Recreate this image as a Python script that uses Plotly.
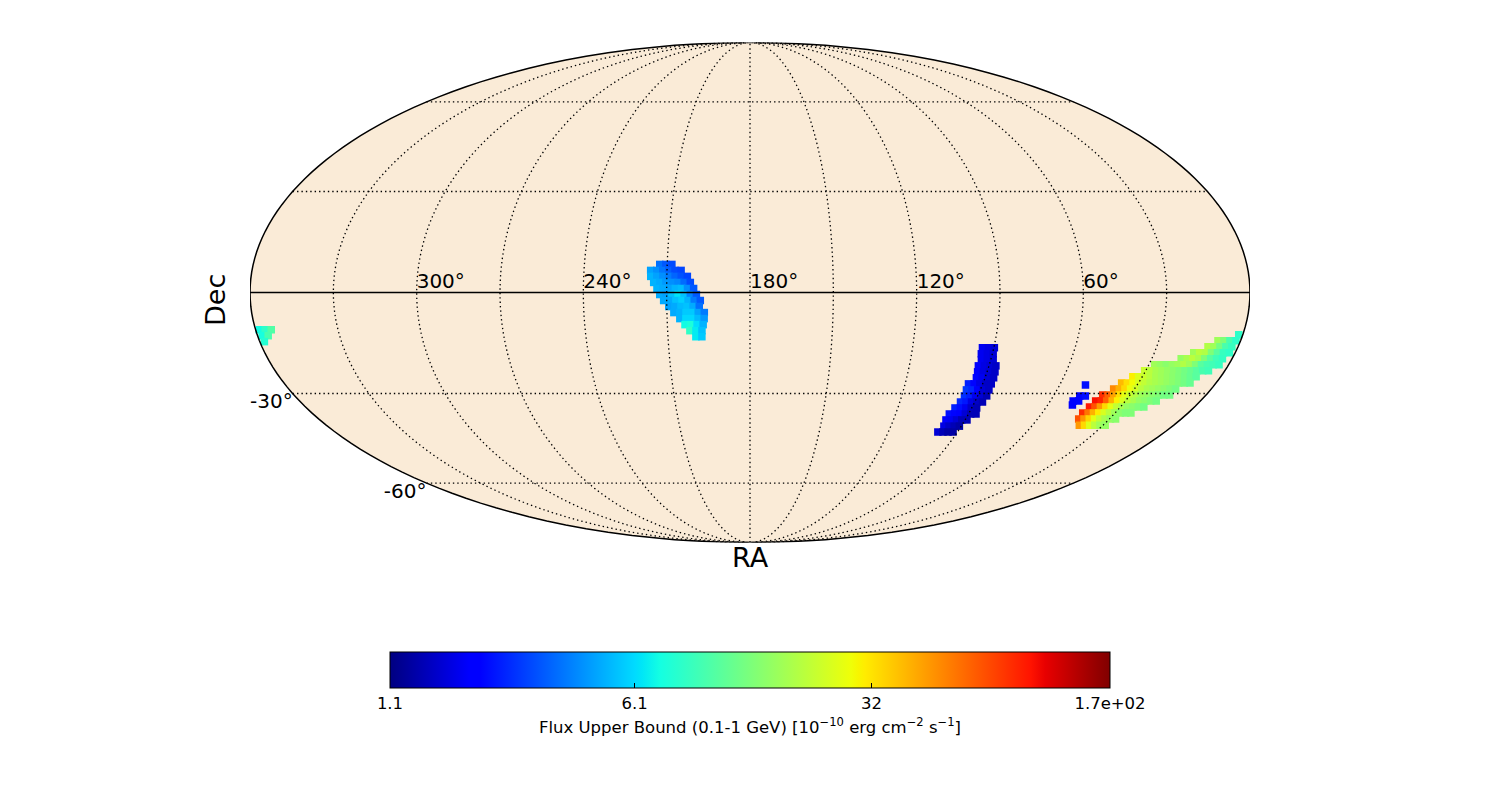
import numpy as np
import plotly.graph_objects as go

# ---- Data: rings of (Dec, first RA, flux per pixel) ----
RA_STEP = 2.2

A_DEC = [8.2, 6.45, 4.7, 2.93, 1.17, -0.59, -2.34, -4.1, -5.86, -7.63, -9.4, -11.17, -12.95]
A_RA0 = [212.7, 215.9, 215.8, 214.7, 213.5, 212.5, 211.1, 209.3, 207.5, 205.4, 203.6, 201.9, 199.8]
A_FLUX = [
    [3.6, 3.2, 3.0],
    [4.6, 4.2, 3.7, 3.3, 3.0, 2.9],
    [5.0, 4.6, 4.2, 3.8, 3.4, 3.1, 2.9],
    [5.0, 4.8, 4.4, 4.2, 4.0, 3.5, 3.0],
    [5.0, 4.8, 4.6, 5.0, 5.2, 4.2, 3.2],
    [4.8, 4.6, 5.4, 6.4, 5.4, 4.0, 3.2],
    [4.8, 4.8, 5.4, 5.8, 5.0, 3.8, 3.2],
    [4.6, 4.8, 5.2, 5.4, 4.8, 3.6],
    [4.8, 5.0, 5.6, 5.6, 4.6, 3.8],
    [5.0, 6.0, 6.0, 5.2, 4.4],
    [7.2, 7.6, 6.2, 5.0],
    [8.6, 6.6, 5.4],
    [6.6, 5.6],
]

B_DEC = [-16.2, -18.0, -19.8, -21.6, -23.4, -25.2, -27.05, -28.9, -30.75, -32.64, -34.5, -36.4, -38.3, -40.3, -42.2]
B_RA0 = [94.2, 94.1, 93.5, 94.0, 93.6, 93.3, 95.5, 95.4, 95.2, 95.7, 96.8, 97.9, 98.0, 97.4, 98.5]
B_FLUX = [
    [1.8, 1.7, 1.6],
    [1.8, 1.7, 1.6],
    [1.8, 1.7, 1.6],
    [1.9, 1.7, 1.6, 1.5],
    [1.9, 1.7, 1.6, 1.5],
    [2.1, 1.8, 1.6, 1.5],
    [2.4, 2.1, 1.7, 1.5, 1.5],
    [2.7, 2.5, 1.9, 1.6, 1.5],
    [2.6, 2.4, 1.8, 1.6, 1.4],
    [2.5, 2.3, 1.7, 1.5, 1.4],
    [2.4, 2.2, 1.8, 1.5, 1.4],
    [2.2, 2.1, 1.9, 1.6, 1.4, 1.4],
    [1.9, 1.8, 1.6, 1.4, 1.4],
    [1.7, 1.5, 1.4, 1.3],
    [1.6, 1.4, 1.3, 1.3],
]

C_DEC = [-12.34, -14.13, -15.9, -17.69, -19.5, -21.3, -23.1, -24.9, -26.75, -28.6, -30.45, -32.3, -34.2, -36.08, -38.0, -40.0]
C_RA0 = [1.5, 8.3, 11.1, 15.4, 19.0, 27.8, 30.4, 33.6, 36.5, 38.1, 40.8, 41.9, 42.5, 43.3, 42.8, 40.1]
C_FLUX = [
    [8.5],
    [17, 14, 10, 8.5],
    [19, 17, 13, 10, 9],
    [17, 20, 19, 14, 11, 9, 8.6],
    [16, 18, 20, 18, 14, 11, 9.5, 8.8],
    [17, 16, 15, 16, 17, 19, 17, 14, 11, 10, 9.5, 9],
    [22, 20, 18, 17, 16, 15, 14, 13, 12, 11, 10, 9.5],
    [30, 25, 22, 20, 18, 17, 16, 15, 14, 13, 12, 11],
    [40, 33, 28, 24, 21, 19, 18, 17, 16, 15, 14, 13, 12],
    [52, 42, 34, 27, 23, 20, 18, 17, 16, 15, 14, 13],
    [85, 65, 45, 33, 26, 22, 19, 17, 16, 15, 14, 13, 13],
    [100, 90, 65, 42, 30, 24, 20, 18, 16, 15, 14, 13],
    [95, 70, 48, 34, 26, 21, 18, 16, 15, 14, 13],
    [85, 58, 42, 31, 24, 20, 17, 15, 14, 14],
    [70, 48, 35, 26, 21, 18, 16, 15],
    [48, 34, 25, 20, 17, 16],
]

D_DEC = [-27.4, -30.75, -32.3, -33.6]
D_RA0 = [50.0, 49.6, 50.9, 50.0]
D_FLUX = [[2.2], [2.1, 2.2], [2.0, 2.1], [2.0]]

E_DEC = [-10.9, -12.65, -14.4]
E_RA0 = [358.7, 358.3, 358.3]
E_FLUX = [[7.2, 8.5, 10.5], [7.4, 10.0], [8.0]]

RINGS = [(A_DEC, A_RA0, A_FLUX), (B_DEC, B_RA0, B_FLUX), (C_DEC, C_RA0, C_FLUX),
         (D_DEC, D_RA0, D_FLUX), (E_DEC, E_RA0, E_FLUX)]

FLUX_TICKS = [1.1, 6.1, 32, 170]
FLUX_TICK_TEXT = ["1.1", "6.1", "32", "1.7e+02"]
RA_LABELS = [300, 240, 180, 120, 60]
DEC_LABELS = [-30, -60]
RA_GRID = [0, 30, 60, 90, 120, 150, 180, 210, 240, 270, 300, 330, 360]
DEC_GRID = [-60, -30, 30, 60]

JET = [
    [0.0, "rgb(0,0,128)"], [0.11, "rgb(0,0,255)"], [0.125, "rgb(0,0,255)"],
    [0.34, "rgb(0,219,255)"], [0.35, "rgb(0,230,247)"], [0.375, "rgb(20,255,226)"],
    [0.64, "rgb(239,255,8)"], [0.65, "rgb(247,246,0)"], [0.66, "rgb(255,236,0)"],
    [0.89, "rgb(255,19,0)"], [0.91, "rgb(232,0,0)"], [1.0, "rgb(128,0,0)"],
]

BG = "#faebd7"
EDGE = 179.99
PAGE_OFFSET = 8  # the page's body margin


def fx(px):
    return (px - PAGE_OFFSET) / 1500


def fy(py):
    return 1 - (py - PAGE_OFFSET) / 800


def to_lon(ra):
    return 180.0 - np.asarray(ra, dtype=float)


ra_pts, dec_pts, flux_pts = [], [], []
for decs, starts, fluxes in RINGS:
    for dec, start, row in zip(decs, starts, fluxes):
        for i, f in enumerate(row):
            ra_pts.append(start - RA_STEP * i)
            dec_pts.append(dec)
            flux_pts.append(f)

fig = go.Figure()

# Sphere background
lat_up = np.linspace(-89.9, 89.9, 91)
lon_top = np.linspace(-EDGE, EDGE, 61)
bg_lon = np.concatenate([np.full(91, -EDGE), lon_top, np.full(91, EDGE), lon_top[::-1]])
bg_lat = np.concatenate([lat_up, np.full(61, 89.9), lat_up[::-1], np.full(61, -89.9)])
fig.add_trace(go.Scattergeo(lon=bg_lon, lat=bg_lat, mode="lines", fill="toself",
                            fillcolor=BG, line=dict(color=BG, width=0),
                            hoverinfo="skip", showlegend=False))

# Flux pixels
fig.add_trace(go.Scattergeo(
    lon=to_lon(ra_pts), lat=dec_pts, mode="markers", showlegend=False,
    marker=dict(
        symbol="square", size=7.5, line=dict(width=0),
        color=np.log10(flux_pts), colorscale=JET,
        cmin=np.log10(FLUX_TICKS[0]), cmax=np.log10(FLUX_TICKS[-1]),
        colorbar=dict(
            orientation="h", x=fx(750), xanchor="center", y=fy(652), yanchor="top",
            len=720 / 1500, lenmode="fraction", thickness=36, thicknessmode="pixels",
            xpad=0, ypad=0, outlinecolor="black", outlinewidth=1,
            tickmode="array", tickvals=list(np.log10(FLUX_TICKS)), ticktext=FLUX_TICK_TEXT,
            ticks="inside", ticklen=5, tickcolor="black", tickwidth=1,
            tickfont=dict(family="DejaVu Sans", size=16.5, color="black"),
            title=dict(
                text="Flux Upper Bound (0.1-1 GeV) [10<sup>−10</sup> erg cm<sup>−2</sup> s<sup>−1</sup>]",
                side="bottom", font=dict(family="DejaVu Sans", size=16.5, color="black"),
            ),
        ),
    ),
))

# Dotted graticule, above the pixels
grid = dict(color="black", width=1.3, dash="1.4px,3px")
for ra in RA_GRID[1:-1]:
    fig.add_trace(go.Scattergeo(lon=np.full(91, to_lon(ra)), lat=np.linspace(-89.9, 89.9, 91),
                                mode="lines", line=grid, hoverinfo="skip", showlegend=False))
for dec in DEC_GRID:
    fig.add_trace(go.Scattergeo(lon=np.linspace(-EDGE, EDGE, 121), lat=np.full(121, dec),
                                mode="lines", line=grid, hoverinfo="skip", showlegend=False))

# Solid equator and outline
fig.add_trace(go.Scattergeo(lon=np.linspace(-EDGE, EDGE, 121), lat=np.zeros(121), mode="lines",
                            line=dict(color="black", width=1.5), hoverinfo="skip", showlegend=False))
fig.add_trace(go.Scattergeo(lon=bg_lon, lat=bg_lat, mode="lines",
                            line=dict(color="black", width=1.5), hoverinfo="skip", showlegend=False))

# Coordinate labels
fig.add_trace(go.Scattergeo(lon=to_lon(RA_LABELS), lat=[0] * len(RA_LABELS), mode="text",
                            text=[f"{r}°" for r in RA_LABELS], textposition="top right",
                            textfont=dict(family="DejaVu Sans", size=20, color="black"),
                            hoverinfo="skip", showlegend=False))
fig.add_trace(go.Scattergeo(lon=[-EDGE] * len(DEC_LABELS), lat=DEC_LABELS, mode="text",
                            text=[f"{d}°" for d in DEC_LABELS], textposition="bottom left",
                            textfont=dict(family="DejaVu Sans", size=20, color="black"),
                            hoverinfo="skip", showlegend=False))

fig.update_layout(
    width=1500, height=800, autosize=False,
    margin=dict(l=0, r=0, t=0, b=0),
    paper_bgcolor="white",
    font=dict(family="DejaVu Sans", color="black"),
    geo=dict(
        domain=dict(x=[fx(250), fx(1250)], y=[fy(542.5), fy(42.5)]),
        projection=dict(type="mollweide"),
        bgcolor="rgba(0,0,0,0)",
        showland=False, showocean=False, showlakes=False, showrivers=False,
        showcountries=False, showcoastlines=False, showsubunits=False, showframe=False,
        lonaxis=dict(showgrid=False), lataxis=dict(showgrid=False),
    ),
    annotations=[
        dict(text="RA", xref="paper", yref="paper", x=fx(750), y=fy(557),
             xanchor="center", yanchor="middle", showarrow=False,
             font=dict(family="DejaVu Sans", size=27, color="black")),
        dict(text="Dec", xref="paper", yref="paper", x=fx(215), y=fy(300),
             xanchor="center", yanchor="middle", showarrow=False, textangle=-90,
             font=dict(family="DejaVu Sans", size=27, color="black")),
    ],
)

fig.write_html("out.html")
